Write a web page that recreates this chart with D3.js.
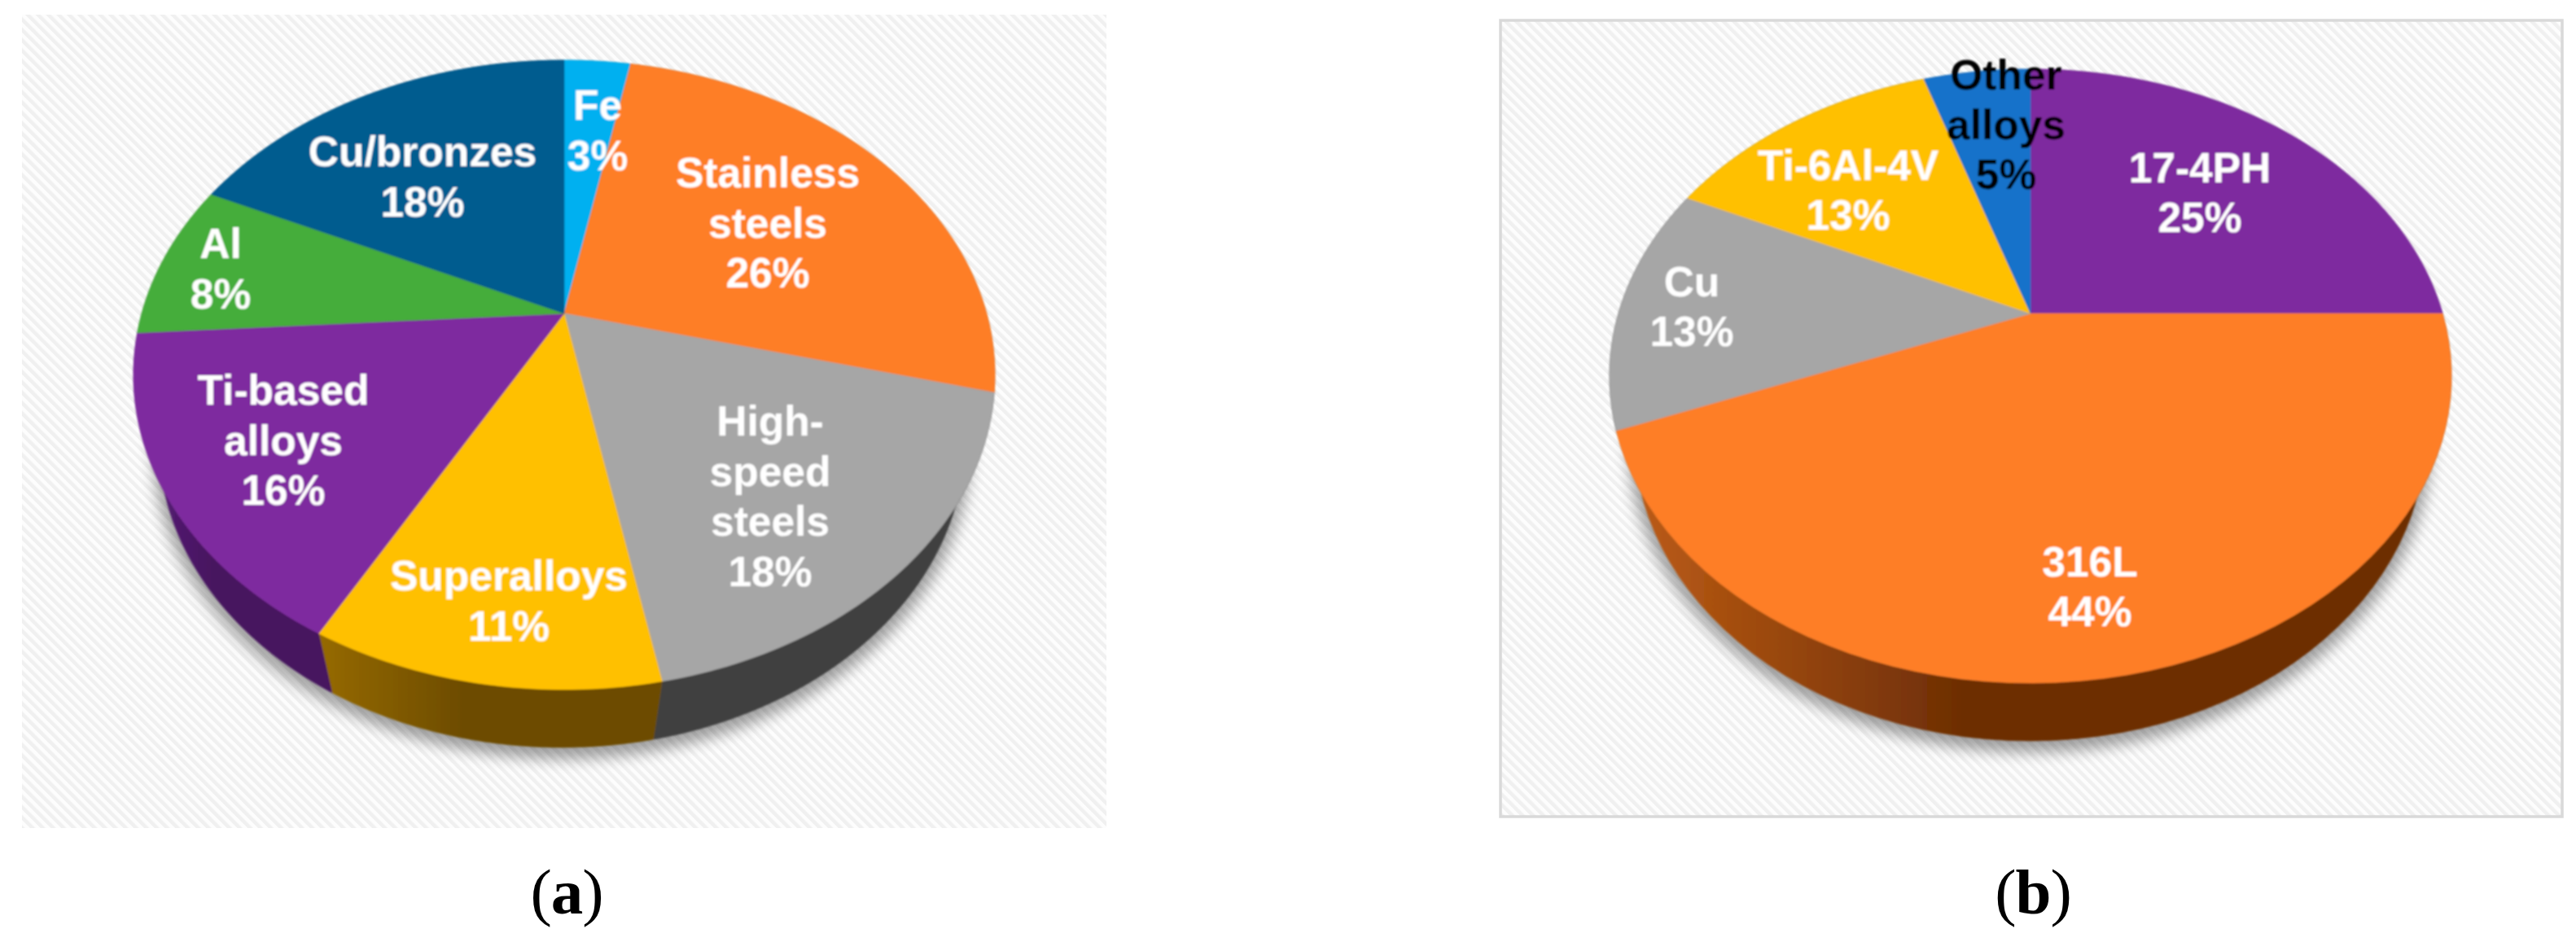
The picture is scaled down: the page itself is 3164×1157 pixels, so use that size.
<!DOCTYPE html>
<html><head><meta charset="utf-8">
<script src="https://cdnjs.cloudflare.com/ajax/libs/d3/7.8.5/d3.min.js"></script>
<style>html,body{margin:0;padding:0;background:#fff}svg{display:block}</style></head>
<body><svg id="c" width="3164" height="1157"></svg>
<script>
// ---- data ----
const namesA = ["Fe","Stainless steels","High-speed steels","Superalloys","Ti-based alloys","Al","Cu/bronzes"];
const valuesA = [3,26,18,11,16,8,18];
const colorsA = ["#00b0f0","#fe7e26","#a6a6a6","#ffc000","#7e2a9f","#45ad3a","#005b8f"];
const sideA = [["#006a90","#006a90"],["#98491a","#98491a"],["#404040","#404040"],["#966a00","#6d4c00"],["#591e7a","#47155f"],["#286a22","#286a22"],["#003756","#003756"]];
const linesA = [["Fe","3%"],["Stainless","steels","26%"],["High-","speed","steels","18%"],["Superalloys","11%"],["Ti-based","alloys","16%"],["Al","8%"],["Cu/bronzes","18%"]];

const namesB = ["17-4PH","316L","Cu","Ti-6Al-4V","Other alloys"];
const valuesB = [25,44,13,13,5];
const colorsB = ["#7e2a9f","#fe7e26","#a6a6a6","#ffc000","#1672ca"];
const sideB = [["#4c1a68","#4c1a68"],["#c05e16","#6d2e05"],["#404040","#404040"],["#966a00","#6d4c00"],["#0c4378","#0c4378"]];
const linesB = [["17-4PH","25%"],["316L","44%"],["Cu","13%"],["Ti-6Al-4V","13%"],["Other","alloys","5%"]];

// ---- layout ----
const layoutA = {cx:693,top:74,bottom:847,rx:529,apexY:385,
  lowCx:690,lowCy:541,lowRx:495,lowRy:377,
  frame:[27,18,1359,1017],border:false,caption:"a",capX:696,capY:1122,
  labelX:[734,943,946,625,348,271,519],labelY:[147,230,535,725,497,317,204],gap:61.5};
const layoutB = {cx:2494,top:85,bottom:839,rx:517,apexY:385,
  lowCx:2493,lowCy:534,lowRx:486,lowRy:376,
  frame:[1843,25,3147,1003],border:true,caption:"b",capX:2497,capY:1122,
  labelX:[2702,2567,2078,2270,2464],labelY:[224,708,364,221,110],gap:61};

const svg = d3.select("#c");
const defs = svg.append("defs");
const pat = defs.append("pattern").attr("id","hatch").attr("patternUnits","userSpaceOnUse")
  .attr("width",9).attr("height",9).attr("patternTransform","rotate(-45)");
pat.append("rect").attr("width",9).attr("height",9).attr("fill","#fdfdfd");
pat.append("rect").attr("width",4.5).attr("height",9).attr("fill","#f0f0f0");
defs.append("filter").attr("id","shadow").attr("x","-20%").attr("y","-20%").attr("width","140%").attr("height","140%")
  .append("feGaussianBlur").attr("stdDeviation",9);
defs.append("filter").attr("id","soft").attr("x","-5%").attr("y","-5%").attr("width","110%").attr("height","110%")
  .append("feGaussianBlur").attr("stdDeviation",0.8);

function drawPie(id, values, colors, sides, lines, L){
  const g = svg.append("g");
  const [x0,y0,x1,y1] = L.frame;
  g.append("rect").attr("x",x0).attr("y",y0).attr("width",x1-x0).attr("height",y1-y0)
    .attr("fill","url(#hatch)").attr("stroke",L.border?"#d9d9d9":"none").attr("stroke-width",L.border?3.5:0);

  const ry = (L.bottom-L.top)/2, cy=(L.bottom+L.top)/2;
  const k = (L.apexY-cy)/ry, s = Math.sqrt(1-k*k);
  // projective view of the disc: circle angle -> point on the tilted ellipse
  const proj = (a, ccx, rx, ryy, ccy) => {
    const ux=Math.sin(a), uy=-Math.cos(a), w=1+k*uy;
    return [ccx+rx*ux*s/w, ccy+ryy*(uy+k)/w];
  };
  const top = a=>proj(a,L.cx,L.rx,ry,cy), low = a=>proj(a,L.lowCx,L.lowRx,L.lowRy,L.lowCy);

  const arcs = d3.pie().sort(null).value(d=>d)(values);
  const sample = (a0,a1)=>d3.range(0,61).map(i=>a0+(a1-a0)*i/60);
  const line = d3.line();

  // soft ground shadow
  g.append("ellipse").attr("cx",L.lowCx).attr("cy",L.lowCy+9).attr("rx",L.lowRx+7).attr("ry",L.lowRy+5)
    .attr("fill","#000").attr("opacity",.36).attr("filter","url(#shadow)");

  const wrap = g.append("g").attr("filter","url(#soft)");
  // rim
  arcs.forEach((d,i)=>{
    const ang = sample(d.startAngle,d.endAngle);
    const xa = top(d.startAngle)[0], xb = top(d.endAngle)[0];
    const grad = defs.append("linearGradient").attr("id",id+"s"+i).attr("gradientUnits","userSpaceOnUse")
      .attr("x1",Math.min(xa,xb)).attr("x2",Math.max(xa,xb)).attr("y1",0).attr("y2",0);
    const [hi,lo] = sides[i];
    grad.append("stop").attr("offset",0).attr("stop-color",hi);
    grad.append("stop").attr("offset",.42).attr("stop-color",lo);
    grad.append("stop").attr("offset",1).attr("stop-color",lo);
    const pts = ang.map(top).concat(ang.slice().reverse().map(low));
    wrap.append("path").attr("d",line(pts)+"Z").attr("fill",`url(#${id}s${i})`).attr("stroke",`url(#${id}s${i})`).attr("stroke-width",.6);
  });
  // top face
  arcs.forEach((d,i)=>{
    const pts = [[L.cx,L.apexY]].concat(sample(d.startAngle,d.endAngle).map(top));
    wrap.append("path").attr("d",line(pts)+"Z").attr("fill",colors[i]).attr("stroke",colors[i]).attr("stroke-width",.6);
  });
  // labels
  lines.forEach((ls,i)=>{
    const t = wrap.append("text").attr("text-anchor","middle").attr("font-family","'Liberation Sans'")
      .attr("font-weight",700).attr("font-size",51.5).attr("fill",ls[0]==="Other"?"#000":"#fff");
    ls.forEach((l,j)=>t.append("tspan").attr("x",L.labelX[i]).attr("y",L.labelY[i]+j*L.gap).text(l));
  });
  // caption
  const c = g.append("text").attr("text-anchor","middle").attr("x",L.capX).attr("y",L.capY)
    .attr("font-family","'Liberation Serif'").attr("font-size",79).attr("letter-spacing",-1).attr("fill","#000");
  c.append("tspan").text("(");
  c.append("tspan").attr("font-weight",700).text(L.caption);
  c.append("tspan").text(")");
}
drawPie("a",valuesA,colorsA,sideA,linesA,layoutA);
drawPie("b",valuesB,colorsB,sideB,linesB,layoutB);
</script></body></html>
